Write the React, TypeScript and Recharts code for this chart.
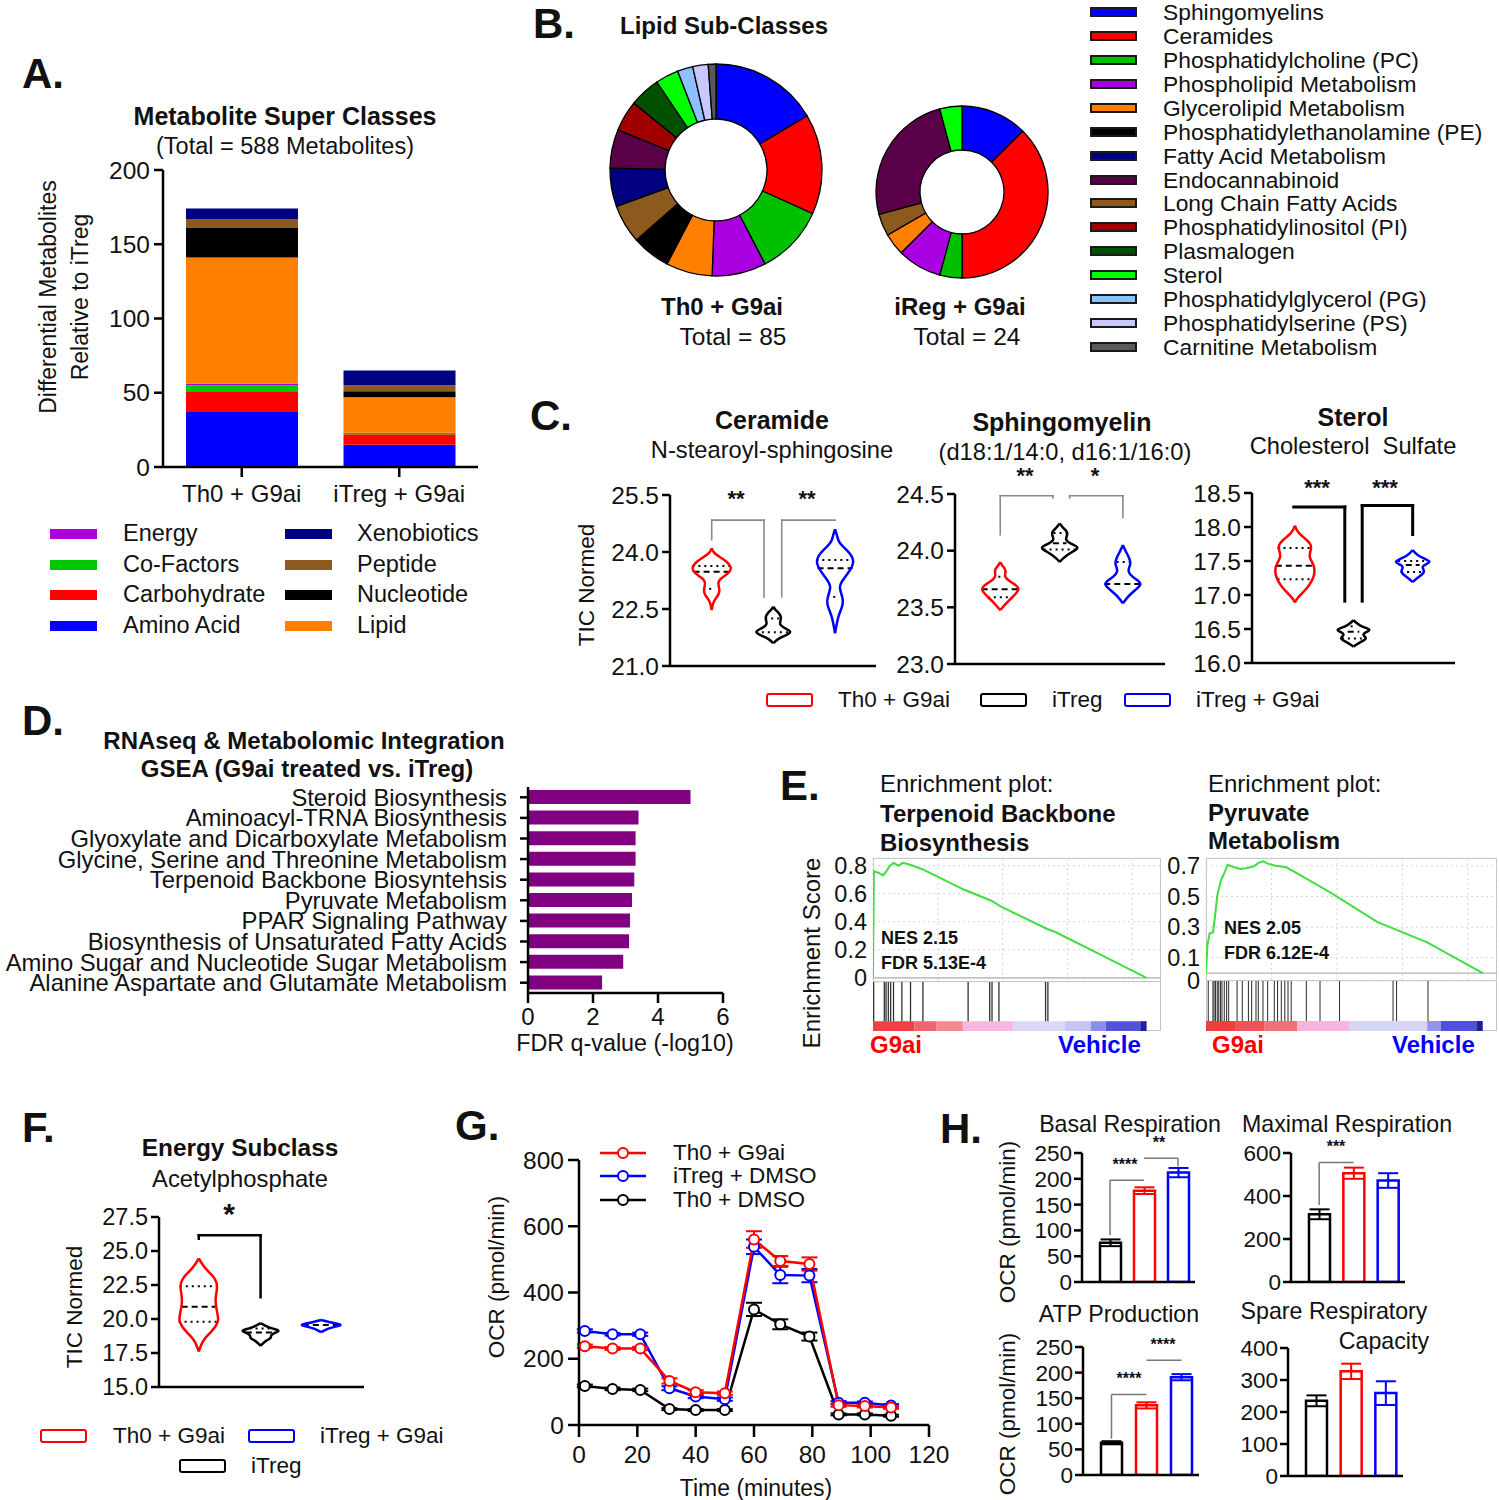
import React from 'react';
import {
  BarChart,
  Bar,
  XAxis,
  YAxis,
  PieChart,
  Pie,
  Cell,
  ComposedChart,
  Scatter,
  ReferenceLine,
  ReferenceArea,
  LineChart,
  Line,
  ErrorBar,
  CartesianGrid,
} from 'recharts';

const FONT = '"Liberation Sans", Arial, sans-serif';
const INK = '#111';
const AX = { stroke: '#000', strokeWidth: 2.5 };
const tick = (fontSize: number) => ({ fontSize, fill: INK });

// ---------- A. super classes (stacked counts)
const superCats = ['Th0 + G9ai', 'iTreg + G9ai'];
const aminoAcid = [37, 15];
const carbohydrate = [14, 7];
const coFactors = [4, 1];
const energy = [1, 0];
const lipid = [85, 24];
const nucleotide = [20, 4];
const peptide = [6, 4];
const xenobiotics = [7, 10];
const superTicks = [0, 50, 100, 150, 200];

// ---------- B. lipid sub-classes
const lipidClasses = [
  'Sphingomyelins',
  'Ceramides',
  'Phosphatidylcholine (PC)',
  'Phospholipid Metabolism',
  'Glycerolipid Metabolism',
  'Phosphatidylethanolamine (PE)',
  'Fatty Acid Metabolism',
  'Endocannabinoid',
  'Long Chain Fatty Acids',
  'Phosphatidylinositol (PI)',
  'Plasmalogen',
  'Sterol',
  'Phosphatidylglycerol (PG)',
  'Phosphatidylserine (PS)',
  'Carnitine Metabolism',
];
const lipidColors = [
  '#0000FF', '#FF0000', '#00C000', '#A800E0', '#FF8000', '#000000', '#000080', '#5A0048',
  '#8C5A1E', '#A00000', '#005000', '#00FF00', '#8CC0FF', '#C8C8FF', '#5a5a5a',
];
const th0Lipids = [14, 13, 9, 7, 6, 5, 5, 5, 5, 4, 4, 3, 2, 2, 1];
const iregLipids = [3, 9, 1, 2, 1, 0, 0, 6, 1, 0, 0, 1, 0, 0, 0];
const donutOrder = [0, 1, 2, 3, 4, 5, 8, 6, 7, 9, 10, 11, 12, 13, 14];

// ---------- C. violins  [value, half width]
const c1Red = [[24.1, 0], [24.02, 0.02], [23.95, 0.05], [23.85, 0.15], [23.75, 0.24], [23.62, 0.31], [23.52, 0.31], [23.42, 0.25], [23.32, 0.16], [23.22, 0.1], [23.1, 0.11], [23.0, 0.13], [22.87, 0.11], [22.75, 0.05], [22.65, 0.02], [22.47, 0]];
const c1Black = [[22.56, 0], [22.48, 0.03], [22.38, 0.1], [22.27, 0.13], [22.17, 0.11], [22.08, 0.1], [21.98, 0.2], [21.9, 0.3], [21.82, 0.22], [21.74, 0.1], [21.66, 0.04], [21.6, 0]];
const c1Blue = [[24.6, 0], [24.45, 0.03], [24.3, 0.05], [24.2, 0.09], [24.05, 0.19], [23.9, 0.27], [23.75, 0.3], [23.6, 0.27], [23.45, 0.21], [23.32, 0.15], [23.2, 0.1], [23.09, 0.07], [22.95, 0.09], [22.8, 0.12], [22.65, 0.13], [22.5, 0.1], [22.3, 0.05], [22.05, 0.02], [21.86, 0]];
const c1Medians = [[23.48, 0.29], [22.05, 0], [23.57, 0.28]];
const c1Quartiles = [[[23.63, 0.31], [23.03, 0.04]], [[22.25, 0.13], [21.89, 0.28]], [[23.79, 0.3], [22.82, 0.03]]];

const c2Red = [[23.9, 0], [23.87, 0.03], [23.84, 0.08], [23.81, 0.09], [23.77, 0.065], [23.73, 0.15], [23.69, 0.27], [23.66, 0.31], [23.62, 0.25], [23.58, 0.18], [23.54, 0.1], [23.5, 0.04], [23.476, 0]];
const c2Black = [[24.24, 0], [24.21, 0.04], [24.18, 0.1], [24.155, 0.13], [24.12, 0.11], [24.095, 0.09], [24.06, 0.18], [24.03, 0.32], [24.0, 0.24], [23.97, 0.14], [23.93, 0.05], [23.9, 0]];
const c2Blue = [[24.05, 0], [24.0, 0.04], [23.94, 0.1], [23.89, 0.13], [23.85, 0.1], [23.815, 0.08], [23.77, 0.15], [23.73, 0.26], [23.706, 0.3], [23.67, 0.24], [23.62, 0.13], [23.58, 0.06], [23.535, 0]];
const c2Medians = [[23.66, 0.3], [24.066, 0.11], [23.706, 0.3]];
const c2Quartiles = [[[23.77, 0.03], [23.59, 0.2]], [[24.155, 0.1], [24.01, 0.26]], [[23.9, 0.1]]];

const c3Red = [[18.02, 0], [17.95, 0.03], [17.88, 0.1], [17.8, 0.22], [17.73, 0.29], [17.65, 0.27], [17.56, 0.24], [17.48, 0.3], [17.4, 0.34], [17.3, 0.34], [17.2, 0.29], [17.1, 0.21], [17.0, 0.09], [16.94, 0.03], [16.89, 0]];
const c3Black = [[16.63, 0], [16.58, 0.06], [16.53, 0.15], [16.49, 0.32], [16.45, 0.2], [16.41, 0.15], [16.36, 0.25], [16.31, 0.12], [16.27, 0.05], [16.24, 0]];
const c3Blue = [[17.66, 0], [17.6, 0.06], [17.54, 0.18], [17.49, 0.33], [17.45, 0.22], [17.41, 0.15], [17.34, 0.22], [17.28, 0.13], [17.23, 0.05], [17.19, 0]];
const c3Medians = [[17.43, 0.33], [16.46, 0.1], [17.44, 0.12]];
const c3Quartiles = [[[17.69, 0.3], [17.23, 0.3]], [[16.54, 0.05], [16.36, 0.2]], [[17.5, 0.25], [17.34, 0.2]]];

// ---------- D. GSEA
const gseaPathways = [
  'Steroid Biosynthesis',
  'Aminoacyl-TRNA Biosynthesis',
  'Glyoxylate and Dicarboxylate Metabolism',
  'Glycine, Serine and Threonine Metabolism',
  'Terpenoid Backbone Biosyntehsis',
  'Pyruvate Metabolism',
  'PPAR Signaling Pathway',
  'Biosynthesis of Unsaturated Fatty Acids',
  'Amino Sugar and Nucleotide Sugar Metabolism',
  'Alanine Aspartate and Glutamate Metabolism',
];
const gseaFdr = [5.0, 3.4, 3.31, 3.31, 3.27, 3.2, 3.14, 3.11, 2.93, 2.28];

// ---------- E. enrichment plots (rank in % of list)
const e1Rank = [0, 0.3, 1.9, 3.5, 4.6, 5.9, 7.2, 8.8, 10.4, 12.3, 13.9, 17.1, 18.7, 31.5, 41.1, 44.3, 60.3, 63.5, 79.5, 95];
const e1Score = [0, 0.76, 0.75, 0.73, 0.76, 0.8, 0.82, 0.8, 0.82, 0.81, 0.8, 0.775, 0.76, 0.63, 0.55, 0.51, 0.35, 0.325, 0.16, 0];
const e1Hits = [0.3, 4.0, 4.6, 5.4, 6.2, 7.2, 10.1, 13.1, 17.4, 33.1, 40.6, 41.4, 43.8, 60.0, 60.8];
const e1HeatEdges = [0, 14.4, 21.9, 31.2, 48.8, 66.7, 75.7, 80.8, 92.8, 95];
const e1HeatColors = ['#EE4045', '#F2646E', '#F48A8E', '#F5B8DE', '#D9D9F7', '#C4C4F5', '#8C8CEF', '#5252DF', '#1E1EA8'];

const e2Rank = [0, 0.5, 1.25, 2.4, 3.1, 3.9, 5.2, 6.3, 7.4, 9.4, 11.8, 14.1, 16.5, 18, 19.6, 21.2, 24.3, 27.4, 32.1, 43.1, 58.8, 76, 95.1];
const e2Score = [0, 0.185, 0.26, 0.266, 0.37, 0.51, 0.61, 0.654, 0.708, 0.693, 0.68, 0.687, 0.698, 0.72, 0.73, 0.715, 0.7, 0.693, 0.643, 0.523, 0.334, 0.2, 0];
const e2Hits = [0.8, 2.4, 2.8, 3.3, 3.9, 4.4, 5.0, 5.5, 6.3, 7.1, 7.8, 10.7, 12.5, 14.6, 15.7, 17.2, 18.0, 19.6, 21.2, 23.5, 24.6, 25.9, 27.1, 28.2, 29.3, 34.5, 39.2, 45.9, 64.3, 65.5, 76.3];
const e2HeatEdges = [0, 10, 20, 31.3, 49.4, 76, 80.7, 92.9, 95.1];
const e2HeatColors = ['#E94040', '#EC5458', '#F07276', '#F5B5DC', '#D6D6F7', '#9494EF', '#5050DF', '#1E1EA0'];

// ---------- F. energy violins
const fRed = [[24.45, 0], [24.0, 0.06], [23.5, 0.15], [23.0, 0.27], [22.4, 0.31], [21.8, 0.28], [21.2, 0.27], [20.5, 0.3], [19.9, 0.33], [19.4, 0.27], [18.95, 0.18], [18.5, 0.08], [18.0, 0.03], [17.61, 0]];
const fBlack = [[19.69, 0], [19.5, 0.08], [19.3, 0.18], [19.15, 0.33], [19.0, 0.24], [18.8, 0.16], [18.6, 0.18], [18.4, 0.08], [18.03, 0]];
const fBlue = [[19.93, 0], [19.8, 0.1], [19.65, 0.28], [19.55, 0.34], [19.45, 0.24], [19.3, 0.1], [19.03, 0]];
const fMedians = [[20.9, 0.28], [19.0, 0.24], [19.55, 0.3]];
const fQuartiles = [[[22.4, 0.31], [19.8, 0.33]], [[19.3, 0.18]], []];

// ---------- G. seahorse OCR trace
const ocrTime = [2, 11.5, 21, 31, 40, 50, 60, 69, 79, 89, 98, 107];
const th0G9ai = [238, 231, 231, 133, 99, 96, 560, 495, 486, 60, 57, 53];
const th0G9aiSem = [5, 4, 5, 8, 6, 5, 25, 15, 20, 5, 4, 4];
const itregDmso = [284, 274, 274, 111, 86, 78, 538, 453, 451, 67, 67, 59];
const itregDmsoSem = [5, 4, 5, 6, 5, 5, 22, 25, 20, 5, 4, 4];
const th0Dmso = [118, 109, 106, 48, 45, 45, 349, 304, 267, 32, 32, 28];
const th0DmsoSem = [4, 4, 4, 3, 3, 3, 20, 15, 12, 3, 3, 3];

// ---------- H. respiration summaries
const hGroups = ['Th0 + DMSO', 'Th0 + G9ai', 'iTreg + DMSO'];
const basalMean = [76, 177, 212];
const basalSem = [6.5, 6.5, 9];
const maximalMean = [315, 506, 472];
const maximalSem = [23, 26, 34];
const atpMean = [63, 136, 191];
const atpSem = [3, 6, 6];
const spareMean = [235, 327, 259];
const spareSem = [17, 24, 37];

// ---------------------------------------------------------------
function frame(x0: number, y0: number, x1: number, y1: number, yw = 0, xh = 0, mt = 10, mr = 10, mb = 0) {
  return {
    style: { position: 'absolute' as const, left: x0 - yw, top: y0 - mt },
    width: x1 - x0 + yw + mr,
    height: y1 - y0 + mt + xh + mb,
    margin: { top: mt, right: mr, bottom: mb, left: 0 },
  };
}

function Txt({ x, y, children, size = 23, bold = false, color = INK, align = 'middle', rot = false }: any) {
  const tx = align === 'middle' ? '-50%' : align === 'end' ? '-100%' : '0';
  return (
    <div
      style={{
        position: 'absolute',
        left: x,
        top: y,
        transform: `translate(${tx}, -50%)${rot ? ' rotate(-90deg)' : ''}`,
        fontSize: size,
        fontWeight: bold ? 700 : 400,
        color,
        whiteSpace: 'nowrap',
        lineHeight: 1,
      }}
    >
      {children}
    </div>
  );
}

function Swatch({ x, y, w = 47, h = 10, color, border }: any) {
  return (
    <div
      style={{
        position: 'absolute',
        left: x,
        top: y - h / 2,
        width: w,
        height: h,
        background: color,
        border: border || 'none',
        boxSizing: 'border-box',
      }}
    />
  );
}

function OutlineKey({ x, y, color }: any) {
  return (
    <div
      style={{
        position: 'absolute',
        left: x,
        top: y - 7,
        width: 47,
        height: 14,
        border: `2.5px solid ${color}`,
        borderRadius: 3,
        boxSizing: 'border-box',
      }}
    />
  );
}

const noDot = () => <g />;

// ---------------------------------------------------------------
function PanelA() {
  const rows = superCats.map((name, i) => ({
    name,
    amino: aminoAcid[i],
    carb: carbohydrate[i],
    cof: coFactors[i],
    energy: energy[i],
    lipid: lipid[i],
    nuc: nucleotide[i],
    pep: peptide[i],
    xeno: xenobiotics[i],
  }));
  const stack: [string, string][] = [
    ['amino', '#0000FF'],
    ['carb', '#FF0000'],
    ['cof', '#00C800'],
    ['energy', '#AA00DD'],
    ['lipid', '#FF8000'],
    ['nuc', '#000000'],
    ['pep', '#8C5A1E'],
    ['xeno', '#000080'],
  ];
  const f = frame(163, 170, 478, 467, 75, 50, 14, 14);
  const legendLeft = [
    ['Energy', '#AA00DD'],
    ['Co-Factors', '#00C800'],
    ['Carbohydrate', '#FF0000'],
    ['Amino  Acid', '#0000FF'],
  ];
  const legendRight = [
    ['Xenobiotics', '#000080'],
    ['Peptide', '#8C5A1E'],
    ['Nucleotide', '#000000'],
    ['Lipid', '#FF8000'],
  ];
  const rowsY = [534, 565, 595, 626];
  return (
    <>
      <Txt x={22} y={74} size={42} bold align="start">A.</Txt>
      <Txt x={285} y={116} size={25} bold>Metabolite Super Classes</Txt>
      <Txt x={285} y={147} size={23.5}>(Total = 588 Metabolites)</Txt>
      <Txt x={48} y={297} size={23} rot>Differential Metabolites</Txt>
      <Txt x={80} y={297} size={23} rot>Relative to iTreg</Txt>
      <div style={f.style}>
        <BarChart width={f.width} height={f.height} margin={f.margin} data={rows}>
          <XAxis dataKey="name" interval={0} tick={tick(24)} tickSize={10} tickMargin={8} axisLine={AX} tickLine={AX} height={50} />
          <YAxis domain={[0, 200]} ticks={superTicks} allowDataOverflow interval={0} width={75} tick={tick(24.5)} tickSize={9} tickMargin={4} axisLine={AX} tickLine={AX} />
          {stack.map(([k, c]) => (
            <Bar key={k} dataKey={k} stackId="a" fill={c} barSize={112} isAnimationActive={false} />
          ))}
        </BarChart>
      </div>
      {legendLeft.map(([t, c], i) => (
        <React.Fragment key={t}>
          <Swatch x={50} y={rowsY[i]} color={c} />
          <Txt x={123} y={rowsY[i]} size={23.5} align="start">{t}</Txt>
        </React.Fragment>
      ))}
      {legendRight.map(([t, c], i) => (
        <React.Fragment key={t}>
          <Swatch x={285} y={rowsY[i]} color={c} />
          <Txt x={357} y={rowsY[i]} size={23.5} align="start">{t}</Txt>
        </React.Fragment>
      ))}
    </>
  );
}

function PanelB() {
  const mk = (counts: number[]) =>
    donutOrder
      .map((i) => ({ name: lipidClasses[i], value: counts[i], color: lipidColors[i] }))
      .filter((d) => d.value > 0);
  const d1 = mk(th0Lipids);
  const d2 = mk(iregLipids);
  return (
    <>
      <Txt x={533} y={24} size={42} bold align="start">B.</Txt>
      <Txt x={620} y={26} size={24} bold align="start">Lipid Sub-Classes</Txt>
      <div style={{ position: 'absolute', left: 600, top: 55 }}>
        <PieChart width={460} height={240} margin={{ top: 0, right: 0, bottom: 0, left: 0 }}>
          <Pie data={d1} dataKey="value" cx={116} cy={115} innerRadius={51} outerRadius={106} startAngle={90} endAngle={-270} stroke="#000" strokeWidth={1.3} isAnimationActive={false}>
            {d1.map((d) => (
              <Cell key={d.name} fill={d.color} />
            ))}
          </Pie>
          <Pie data={d2} dataKey="value" cx={362} cy={137} innerRadius={42} outerRadius={86} startAngle={90} endAngle={-270} stroke="#000" strokeWidth={1.3} isAnimationActive={false}>
            {d2.map((d) => (
              <Cell key={d.name} fill={d.color} />
            ))}
          </Pie>
        </PieChart>
      </div>
      <Txt x={722} y={307} size={24} bold>Th0 + G9ai</Txt>
      <Txt x={733} y={337} size={24.5}>Total = 85</Txt>
      <Txt x={960} y={307} size={24} bold>iReg + G9ai</Txt>
      <Txt x={967} y={337} size={24.5}>Total = 24</Txt>
      {lipidClasses.map((t, i) => {
        const y = 12 + i * 23.93;
        return (
          <React.Fragment key={t}>
            <Swatch x={1090} y={y} h={10} color={lipidColors[i]} border="2px solid #1a1a1a" />
            <Txt x={1163} y={y} size={22.8} align="start">{t}</Txt>
          </React.Fragment>
        );
      })}
    </>
  );
}

type Violin = { pos: number; color: string; profile: number[][]; median: number[]; quartiles: number[][] };

function ViolinPlot({ rect, xMax, yDomain, yTicks, violins, brackets, bracketStroke, bracketWidth, tickSize = 24.5 }: any) {
  const f = frame(rect[0], rect[1], rect[2], rect[3], 66, 4, 40, 10, 16);
  const marks: React.ReactNode[] = [];
  violins.forEach((v: Violin, i: number) => {
    const line = { stroke: v.color, strokeWidth: 2.5 };
    const right = v.profile.map(([y, w]) => ({ x: v.pos + w, y }));
    const left = v.profile.map(([y, w]) => ({ x: v.pos - w, y }));
    marks.push(<Scatter key={`r${i}`} data={right} line={line} lineJointType="basis" shape={noDot} isAnimationActive={false} />);
    marks.push(<Scatter key={`l${i}`} data={left} line={line} lineJointType="basis" shape={noDot} isAnimationActive={false} />);
    const [m, mw] = v.median;
    if (mw > 0) {
      marks.push(
        <ReferenceLine key={`m${i}`} segment={[{ x: v.pos - mw, y: m }, { x: v.pos + mw, y: m }]} stroke="#000" strokeWidth={2} strokeDasharray="6 4" ifOverflow="visible" />,
      );
    }
    v.quartiles.forEach(([q, qw], j) =>
      marks.push(
        <ReferenceLine key={`q${i}-${j}`} segment={[{ x: v.pos - qw, y: q }, { x: v.pos + qw, y: q }]} stroke="#000" strokeWidth={2} strokeDasharray="2 4" ifOverflow="visible" />,
      ),
    );
  });
  brackets.forEach((pts: number[][], i: number) => {
    for (let k = 0; k < pts.length - 1; k++) {
      marks.push(
        <ReferenceLine
          key={`b${i}-${k}`}
          segment={[{ x: pts[k][0], y: pts[k][1] }, { x: pts[k + 1][0], y: pts[k + 1][1] }]}
          stroke={bracketStroke}
          strokeWidth={bracketWidth}
          strokeLinecap="square"
          ifOverflow="visible"
        />,
      );
    }
  });
  return (
    <div style={f.style}>
      <ComposedChart width={f.width} height={f.height} margin={f.margin}>
        <XAxis type="number" dataKey="x" domain={[0, xMax]} allowDataOverflow tick={false} tickLine={false} axisLine={AX} height={4} />
        <YAxis
          type="number"
          dataKey="y"
          domain={yDomain}
          ticks={yTicks}
          allowDataOverflow
          interval={0}
          tickFormatter={(v: number) => v.toFixed(1)}
          width={66}
          tickSize={8}
          tickMargin={3}
          tick={tick(tickSize)}
          axisLine={AX}
          tickLine={AX}
        />
        {marks}
      </ComposedChart>
    </div>
  );
}

function PanelC() {
  const v1 = [
    { pos: 0.668, color: '#FF0000', profile: c1Red, median: c1Medians[0], quartiles: c1Quartiles[0] },
    { pos: 1.655, color: '#000000', profile: c1Black, median: c1Medians[1], quartiles: c1Quartiles[1] },
    { pos: 2.644, color: '#0000FF', profile: c1Blue, median: c1Medians[2], quartiles: c1Quartiles[2] },
  ];
  const v2 = [
    { pos: 0.73, color: '#FF0000', profile: c2Red, median: c2Medians[0], quartiles: c2Quartiles[0] },
    { pos: 1.69, color: '#000000', profile: c2Black, median: c2Medians[1], quartiles: c2Quartiles[1] },
    { pos: 2.71, color: '#0000FF', profile: c2Blue, median: c2Medians[2], quartiles: c2Quartiles[2] },
  ];
  const v3 = [
    { pos: 0.74, color: '#FF0000', profile: c3Red, median: c3Medians[0], quartiles: c3Quartiles[0] },
    { pos: 1.75, color: '#000000', profile: c3Black, median: c3Medians[1], quartiles: c3Quartiles[1] },
    { pos: 2.77, color: '#0000FF', profile: c3Blue, median: c3Medians[2], quartiles: c3Quartiles[2] },
  ];
  return (
    <>
      <Txt x={530} y={416} size={42} bold align="start">C.</Txt>
      <Txt x={772} y={420} size={25} bold>Ceramide</Txt>
      <Txt x={772} y={451} size={23.7}>N-stearoyl-sphingosine</Txt>
      <Txt x={1062} y={422} size={25} bold>Sphingomyelin</Txt>
      <Txt x={1065} y={453} size={23.7}>(d18:1/14:0, d16:1/16:0)</Txt>
      <Txt x={1353} y={417} size={25} bold>Sterol</Txt>
      <Txt x={1353} y={447} size={23.7}>Cholesterol&nbsp; Sulfate</Txt>
      <Txt x={587} y={585} size={22.5} rot>TIC Normed</Txt>
      <ViolinPlot
        rect={[670, 495, 876, 666]}
        xMax={3.3}
        yDomain={[21, 25.5]}
        yTicks={[21, 22.5, 24, 25.5]}
        violins={v1}
        bracketStroke="#8a8a8a"
        bracketWidth={1.6}
        brackets={[
          [[0.668, 24.32], [0.668, 24.84], [1.506, 24.84], [1.506, 22.82]],
          [[1.79, 22.82], [1.79, 24.84], [2.644, 24.84]],
        ]}
      />
      <ViolinPlot
        rect={[955, 494, 1165, 664]}
        xMax={3.39}
        yDomain={[23, 24.5]}
        yTicks={[23, 23.5, 24, 24.5]}
        violins={v2}
        bracketStroke="#8a8a8a"
        bracketWidth={1.6}
        brackets={[
          [[0.73, 24.14], [0.73, 24.485], [1.58, 24.485], [1.58, 24.465]],
          [[1.85, 24.465], [1.85, 24.485], [2.71, 24.485], [2.71, 24.29]],
        ]}
      />
      <ViolinPlot
        rect={[1252, 493, 1455, 663]}
        xMax={3.5}
        yDomain={[16, 18.5]}
        yTicks={[16, 16.5, 17, 17.5, 18, 18.5]}
        violins={v3}
        bracketStroke="#000"
        bracketWidth={3}
        brackets={[
          [[0.72, 18.295], [1.6, 18.295], [1.6, 16.91]],
          [[1.9, 16.91], [1.9, 18.315], [2.77, 18.315], [2.77, 17.89]],
        ]}
      />
      <Txt x={736} y={499} bold size={22}>**</Txt>
      <Txt x={807} y={499} bold size={22}>**</Txt>
      <Txt x={1025} y={476} bold size={22}>**</Txt>
      <Txt x={1095} y={476} bold size={22}>*</Txt>
      <Txt x={1317} y={488} bold size={22}>***</Txt>
      <Txt x={1385} y={488} bold size={22}>***</Txt>
      <OutlineKey x={766} y={700} color="#FF0000" />
      <Txt x={838} y={700} size={22.5} align="start">Th0 + G9ai</Txt>
      <OutlineKey x={980} y={700} color="#000000" />
      <Txt x={1052} y={700} size={22.5} align="start">iTreg</Txt>
      <OutlineKey x={1124} y={700} color="#0000FF" />
      <Txt x={1196} y={700} size={22.5} align="start">iTreg + G9ai</Txt>
    </>
  );
}

function PanelD() {
  const rows = gseaPathways.map((name, i) => ({ name, v: gseaFdr[i] }));
  const f = frame(528, 787, 723, 993, 526, 40, 4, 20);
  return (
    <>
      <Txt x={22} y={721} size={42} bold align="start">D.</Txt>
      <Txt x={304} y={741} size={24} bold>RNAseq &amp; Metabolomic Integration</Txt>
      <Txt x={307} y={769} size={24} bold>GSEA (G9ai treated vs. iTreg)</Txt>
      <div style={f.style}>
        <BarChart layout="vertical" width={f.width} height={f.height} margin={f.margin} data={rows}>
          <XAxis type="number" domain={[0, 6]} ticks={[0, 2, 4, 6]} allowDataOverflow interval={0} tick={tick(24)} tickSize={10} tickMargin={5} axisLine={AX} tickLine={AX} height={40} />
          <YAxis
            type="category"
            dataKey="name"
            interval={0}
            width={526}
            tickSize={8}
            tickMargin={13}
            axisLine={AX}
            tickLine={AX}
            tick={(p: any) => (
              <text x={p.x} y={p.y} textAnchor="end" dominantBaseline="central" fontSize={23.8} fill={INK}>
                {p.payload.value}
              </text>
            )}
          />
          <Bar dataKey="v" fill="#800080" barSize={14} isAnimationActive={false} />
        </BarChart>
      </div>
      <Txt x={625} y={1044} size={23.3}>FDR q-value (-log10)</Txt>
    </>
  );
}

function EsChart({ rect, rank, score, domain, ticks, fmt }: any) {
  const rows = rank.map((r: number, i: number) => ({ r, s: score[i] }));
  const f = frame(rect[0], rect[1], rect[2], rect[3], 58, 0, 8, 0, 14);
  return (
    <div style={f.style}>
      <LineChart width={f.width} height={f.height} margin={f.margin} data={rows}>
        <CartesianGrid stroke="#d6d6d6" strokeDasharray="2 3" />
        <XAxis type="number" dataKey="r" domain={[0, 100]} ticks={[0, 22.5, 45, 67.5, 90]} allowDataOverflow hide />
        <YAxis domain={domain} ticks={ticks} allowDataOverflow interval={0} width={58} axisLine={false} tickLine={false} tickSize={0} tickMargin={6} tick={tick(23.5)} tickFormatter={fmt} />
        <ReferenceLine y={0} stroke="#b0b0b0" strokeWidth={1.2} />
        <Line dataKey="s" type="linear" stroke="#3EDF3E" strokeWidth={2} dot={false} isAnimationActive={false} />
      </LineChart>
    </div>
  );
}

function HitsChart({ rect, hits, edges, colors }: any) {
  const rows = hits.map((h: number) => ({ r: h, span: [0.2, 1] }));
  const f = frame(rect[0], rect[1], rect[2], rect[3], 0, 0, 0, 0);
  return (
    <div style={f.style}>
      <BarChart width={f.width} height={f.height} margin={f.margin} data={rows}>
        <XAxis type="number" dataKey="r" domain={[0, 100]} allowDataOverflow hide />
        <YAxis type="number" domain={[0, 1]} allowDataOverflow hide />
        {colors.map((c: string, i: number) => (
          <ReferenceArea key={i} x1={edges[i]} x2={edges[i + 1]} y1={0} y2={0.2} fill={c} fillOpacity={1} stroke="none" ifOverflow="visible" />
        ))}
        <Bar dataKey="span" fill="#333" barSize={1.3} isAnimationActive={false} />
      </BarChart>
    </div>
  );
}

function Box({ x0, y0, x1, y1 }: any) {
  return (
    <div
      style={{
        position: 'absolute',
        left: x0,
        top: y0,
        width: x1 - x0,
        height: y1 - y0,
        border: '1px solid #c4c4c4',
        boxSizing: 'border-box',
      }}
    />
  );
}

function PanelE() {
  const e2Lo = -0.052;
  return (
    <>
      <Txt x={780} y={786} size={42} bold align="start">E.</Txt>
      <Txt x={880} y={784} size={24} align="start">Enrichment plot:</Txt>
      <Txt x={880} y={814} size={24} bold align="start">Terpenoid Backbone</Txt>
      <Txt x={880} y={843} size={24} bold align="start">Biosynthesis</Txt>
      <Txt x={1208} y={784} size={24} align="start">Enrichment plot:</Txt>
      <Txt x={1208} y={813} size={24} bold align="start">Pyruvate</Txt>
      <Txt x={1208} y={841} size={24} bold align="start">Metabolism</Txt>
      <Txt x={812} y={953} size={24} rot>Enrichment Score</Txt>

      <Box x0={873} y0={858} x1={1161} y1={982} />
      <Box x0={873} y0={981} x1={1161} y1={1031} />
      <EsChart
        rect={[873, 858, 1161, 982]}
        rank={e1Rank}
        score={e1Score}
        domain={[-0.03, 0.855]}
        ticks={[0, 0.2, 0.4, 0.6, 0.8]}
        fmt={(v: number) => (v === 0 ? '0' : v.toFixed(1))}
      />
      <HitsChart rect={[873, 982, 1161, 1031]} hits={e1Hits} edges={e1HeatEdges} colors={e1HeatColors} />
      <Txt x={881} y={938} bold size={18} align="start">NES 2.15</Txt>
      <Txt x={881} y={963} bold size={18} align="start">FDR 5.13E-4</Txt>
      <Txt x={870} y={1045} bold size={24} color="#FF0000" align="start">G9ai</Txt>
      <Txt x={1058} y={1045} bold size={24} color="#0000FF" align="start">Vehicle</Txt>

      <Box x0={1206} y0={858} x1={1497} y1={981} />
      <Box x0={1206} y0={980} x1={1497} y1={1031} />
      <EsChart
        rect={[1206, 858, 1497, 981]}
        rank={e2Rank}
        score={e2Score}
        domain={[e2Lo, 0.752]}
        ticks={[e2Lo, 0.1, 0.3, 0.5, 0.7]}
        fmt={(v: number) => (v < 0 ? '0' : v.toFixed(1))}
      />
      <HitsChart rect={[1206, 981, 1497, 1031]} hits={e2Hits} edges={e2HeatEdges} colors={e2HeatColors} />
      <Txt x={1224} y={928} bold size={18} align="start">NES 2.05</Txt>
      <Txt x={1224} y={953} bold size={18} align="start">FDR 6.12E-4</Txt>
      <Txt x={1212} y={1045} bold size={24} color="#FF0000" align="start">G9ai</Txt>
      <Txt x={1392} y={1045} bold size={24} color="#0000FF" align="start">Vehicle</Txt>
    </>
  );
}

function PanelF() {
  const v = [
    { pos: 0.65, color: '#FF0000', profile: fRed, median: fMedians[0], quartiles: fQuartiles[0] },
    { pos: 1.66, color: '#000000', profile: fBlack, median: fMedians[1], quartiles: fQuartiles[1] },
    { pos: 2.65, color: '#0000FF', profile: fBlue, median: fMedians[2], quartiles: fQuartiles[2] },
  ];
  return (
    <>
      <Txt x={22} y={1128} size={42} bold align="start">F.</Txt>
      <Txt x={240} y={1148} size={24.4} bold>Energy Subclass</Txt>
      <Txt x={240} y={1179} size={23.8}>Acetylphosphate</Txt>
      <Txt x={75} y={1307} size={22.5} rot>TIC Normed</Txt>
      <ViolinPlot
        rect={[159, 1217, 364, 1387]}
        xMax={3.35}
        yDomain={[15, 27.5]}
        yTicks={[15, 17.5, 20, 22.5, 25, 27.5]}
        violins={v}
        tickSize={23.5}
        bracketStroke="#000"
        bracketWidth={2.5}
        brackets={[[[0.65, 25.9], [0.65, 26.16], [1.66, 26.16], [1.66, 21.6]]]}
      />
      <Txt x={229} y={1214} bold size={30}>*</Txt>
      <OutlineKey x={40} y={1436} color="#FF0000" />
      <Txt x={113} y={1436} size={22.5} align="start">Th0 + G9ai</Txt>
      <OutlineKey x={248} y={1436} color="#0000FF" />
      <Txt x={320} y={1436} size={22.5} align="start">iTreg + G9ai</Txt>
      <OutlineKey x={179} y={1466} color="#000000" />
      <Txt x={251} y={1466} size={22.5} align="start">iTreg</Txt>
    </>
  );
}

function PanelG() {
  const rows = ocrTime.map((t, i) => ({
    t,
    red: th0G9ai[i],
    redErr: th0G9aiSem[i],
    blue: itregDmso[i],
    blueErr: itregDmsoSem[i],
    black: th0Dmso[i],
    blackErr: th0DmsoSem[i],
  }));
  const series = [
    { k: 'black', c: '#000000' },
    { k: 'blue', c: '#0000FF' },
    { k: 'red', c: '#FF0000' },
  ];
  const legend = [
    ['Th0 + G9ai', '#FF0000', 1153],
    ['iTreg + DMSO', '#0000FF', 1176],
    ['Th0 + DMSO', '#000000', 1200],
  ];
  const f = frame(579, 1160, 929, 1425, 80, 50, 12, 30);
  return (
    <>
      <Txt x={455} y={1126} size={42} bold align="start">G.</Txt>
      <Txt x={497} y={1277} size={22.5} rot>OCR (pmol/min)</Txt>
      <Txt x={756} y={1488} size={23}>Time (minutes)</Txt>
      <div style={f.style}>
        <LineChart width={f.width} height={f.height} margin={f.margin} data={rows}>
          <XAxis type="number" dataKey="t" domain={[0, 120]} ticks={[0, 20, 40, 60, 80, 100, 120]} allowDataOverflow interval={0} tick={tick(24.5)} tickSize={12} tickMargin={9} axisLine={AX} tickLine={AX} height={50} />
          <YAxis domain={[0, 800]} ticks={[0, 200, 400, 600, 800]} allowDataOverflow interval={0} width={80} tick={tick(24.5)} tickSize={11} tickMargin={4} axisLine={AX} tickLine={AX} />
          {series.map((s) => (
            <Line key={s.k} dataKey={s.k} type="linear" stroke={s.c} strokeWidth={2.5} dot={{ r: 5, fill: '#fff', stroke: s.c, strokeWidth: 2 }} isAnimationActive={false}>
              <ErrorBar dataKey={`${s.k}Err`} width={8} stroke={s.c} strokeWidth={2} />
            </Line>
          ))}
        </LineChart>
      </div>
      {legend.map(([t, c, y]) => (
        <React.Fragment key={t as string}>
          <svg style={{ position: 'absolute', left: 598, top: (y as number) - 8 }} width={50} height={16}>
            <line x1={2} x2={48} y1={8} y2={8} stroke={c as string} strokeWidth={2.5} />
            <circle cx={25} cy={8} r={5} fill="#fff" stroke={c as string} strokeWidth={2} />
          </svg>
          <Txt x={673} y={y} size={22.5} align="start">{t}</Txt>
        </React.Fragment>
      ))}
    </>
  );
}

const hColors = ['#000000', '#FF0000', '#0000FF'];

function HBars({ rect, mean, sem, domain, ticks, children }: any) {
  const rows = hGroups.map((name, i) => ({ name, [`v${i}`]: mean[i], [`e${i}`]: sem[i] }));
  const f = frame(rect[0], rect[1], rect[2], rect[3], 64, 3, 12, 8, 14);
  return (
    <div style={f.style}>
      <BarChart width={f.width} height={f.height} margin={f.margin} data={rows}>
        <XAxis dataKey="name" padding={{ left: 11, right: 0 }} tick={false} tickLine={false} axisLine={AX} height={3} />
        <YAxis domain={domain} ticks={ticks} allowDataOverflow interval={0} width={64} tick={tick(22.5)} tickSize={8} tickMargin={2} axisLine={AX} tickLine={AX} />
        {hColors.map((c, i) => (
          <Bar key={i} dataKey={`v${i}`} stackId="h" fill="#fff" stroke={c} strokeWidth={2.5} barSize={21} isAnimationActive={false}>
            <ErrorBar dataKey={`e${i}`} width={10} stroke={c} strokeWidth={2} />
          </Bar>
        ))}
        {children}
      </BarChart>
    </div>
  );
}

function seg(a: [string, number], b: [string, number], key: string) {
  return (
    <ReferenceLine key={key} segment={[{ x: a[0], y: a[1] }, { x: b[0], y: b[1] }]} stroke="#777" strokeWidth={1.5} ifOverflow="visible" />
  );
}

function PanelH() {
  const [g0, g1, g2] = hGroups;
  return (
    <>
      <Txt x={940} y={1129} size={42} bold align="start">H.</Txt>
      <Txt x={1130} y={1125} size={23.2}>Basal Respiration</Txt>
      <Txt x={1347} y={1125} size={23.2}>Maximal Respiration</Txt>
      <Txt x={1119} y={1315} size={23.2}>ATP Production</Txt>
      <Txt x={1334} y={1312} size={23.2}>Spare Respiratory</Txt>
      <Txt x={1429} y={1342} size={23.2} align="end">Capacity</Txt>
      <Txt x={1008} y={1222} size={22.5} rot>OCR (pmol/min)</Txt>
      <Txt x={1008} y={1414} size={22.5} rot>OCR (pmol/min)</Txt>
      <HBars rect={[1082, 1153, 1195, 1282]} mean={basalMean} sem={basalSem} domain={[0, 250]} ticks={[0, 50, 100, 150, 200, 250]}>
        {seg([g0, 91], [g0, 197], 'a1')}
        {seg([g0, 197], [g1, 197], 'a2')}
        {seg([g1, 240], [g2, 240], 'a3')}
        {seg([g2, 240], [g2, 224], 'a4')}
      </HBars>
      <HBars rect={[1291, 1153, 1405, 1282]} mean={maximalMean} sem={maximalSem} domain={[0, 600]} ticks={[0, 200, 400, 600]}>
        {seg([g0, 358], [g0, 556], 'b1')}
        {seg([g0, 556], [g1, 556], 'b2')}
      </HBars>
      <HBars rect={[1083, 1347, 1199, 1475]} mean={atpMean} sem={atpSem} domain={[0, 250]} ticks={[0, 50, 100, 150, 200, 250]}>
        {seg([g0, 71], [g0, 157], 'c1')}
        {seg([g0, 157], [g1, 157], 'c2')}
        {seg([g1, 224], [g2, 224], 'c3')}
      </HBars>
      <HBars rect={[1288, 1348, 1403, 1476]} mean={spareMean} sem={spareSem} domain={[0, 400]} ticks={[0, 100, 200, 300, 400]} />
      <Txt x={1125} y={1165} bold size={16}>****</Txt>
      <Txt x={1159} y={1143} bold size={16}>**</Txt>
      <Txt x={1336} y={1147} bold size={16}>***</Txt>
      <Txt x={1129} y={1379} bold size={16}>****</Txt>
      <Txt x={1163} y={1345} bold size={16}>****</Txt>
    </>
  );
}

export default function App() {
  return (
    <div
      style={{
        position: 'absolute',
        left: 0,
        top: 0,
        width: 1499,
        height: 1500,
        background: '#fff',
        fontFamily: FONT,
        color: INK,
        overflow: 'hidden',
      }}
    >
      <PanelA />
      <PanelB />
      <PanelC />
      <PanelD />
      <PanelE />
      <PanelF />
      <PanelG />
      <PanelH />
    </div>
  );
}
